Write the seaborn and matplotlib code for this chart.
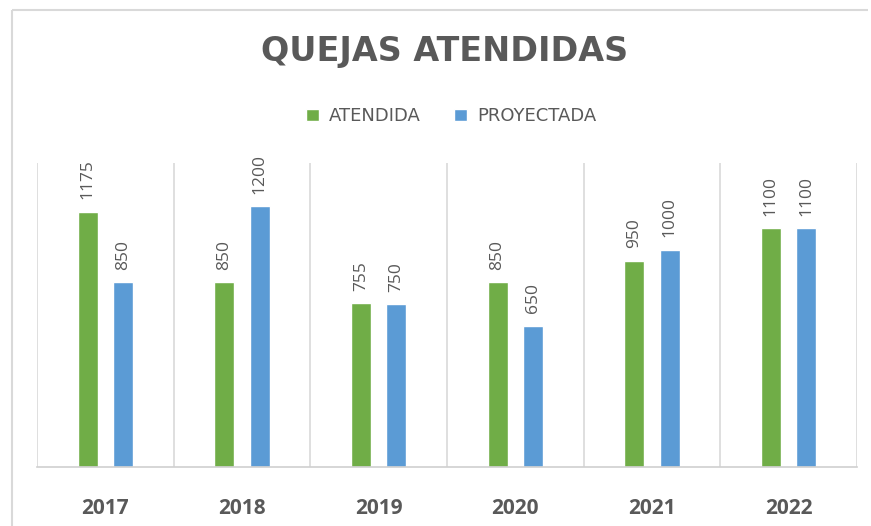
import matplotlib
matplotlib.use("Agg")
import matplotlib.pyplot as plt
import seaborn as sns
import pandas as pd
from matplotlib.lines import Line2D

years = ["2017", "2018", "2019", "2020", "2021", "2022"]
atendida = [1175, 850, 755, 850, 950, 1100]
proyectada = [850, 1200, 750, 650, 1000, 1100]
series = ["ATENDIDA", "PROYECTADA"]
colors = ["#70AD47", "#5B9BD5"]
title = "QUEJAS ATENDIDAS"

df = pd.DataFrame({
    "year": years * 2,
    "value": atendida + proyectada,
    "serie": [series[0]] * len(years) + [series[1]] * len(years),
})

sns.set_theme(style="white")
plt.rcParams['font.family'] = ['Open Sans', 'DejaVu Sans']
gray = "#595959"

fig = plt.figure(figsize=(8.71, 5.26), dpi=100)
ax = fig.add_axes([37/871, 59/526, 820/871, 304/526])

sns.barplot(data=df, x="year", y="value", hue="serie", palette=colors,
            width=0.52, gap=0.44, ax=ax, legend=True, saturation=1)

for c in ax.containers:
    ax.bar_label(c, labels=[f"{int(v)}" for v in c.datavalues], rotation=90,
                 padding=9, color=gray, fontsize=12.5)

ax.set_xlim(-0.5, len(years) - 0.5)
ax.set_ylim(0, 1400)
ax.set_yticks([])
ax.set_xlabel("")
ax.set_ylabel("")
for b in [i - 0.5 for i in range(len(years) + 1)]:
    ax.axvline(b, color="#d9d9d9", lw=1.2, zorder=0)
for s in ["top", "left", "right"]:
    ax.spines[s].set_visible(False)
ax.spines["bottom"].set_color("#d0d0d0")
ax.spines["bottom"].set_linewidth(1.2)
ax.tick_params(axis="x", length=0, pad=22)
for t in ax.get_xticklabels():
    t.set_fontweight("bold")
    t.set_fontsize(15)
    t.set_color(gray)

leg = ax.legend(loc="center", bbox_to_anchor=(451/871, 1 - 116/526),
                bbox_transform=fig.transFigure, ncol=2, frameon=False,
                prop={"family": "DejaVu Sans", "size": 13},
                handlelength=0.75, handleheight=0.65,
                handletextpad=0.55, columnspacing=1.8)
for t in leg.get_texts():
    t.set_color(gray)

fig.text(445/871, 1 - 52/526, title, ha="center", va="center",
         fontsize=24, fontweight="bold", color=gray, family="DejaVu Sans")

# outer chart frame (top and left edges visible)
x0, y0 = 11.5/871, 1 - 9.5/526
fig.add_artist(Line2D([x0, 868/871], [y0, y0], transform=fig.transFigure,
                      color="#d9d9d9", lw=1.5, solid_capstyle="butt"))
fig.add_artist(Line2D([x0, x0], [-0.05, y0], transform=fig.transFigure,
                      color="#d9d9d9", lw=1.5, solid_capstyle="butt"))

fig.savefig("out.png", dpi=100, facecolor="white")
